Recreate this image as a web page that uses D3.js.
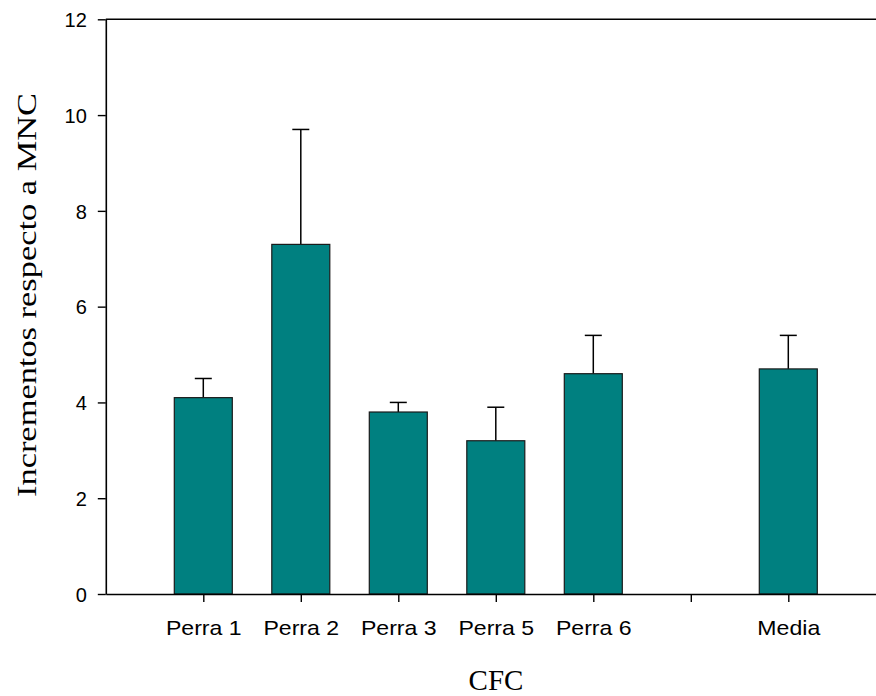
<!DOCTYPE html>
<html>
<head>
<meta charset="utf-8">
<script src="https://cdn.jsdelivr.net/npm/d3@7"></script>
<style>
  html, body { margin: 0; padding: 0; background: #fff; }
  svg { display: block; }
</style>
</head>
<body>
<svg id="chart" width="876" height="696"></svg>
<script>
// Increments relative to MNC per subject (CFC), with upper error bars
const categories = ["Perra 1", "Perra 2", "Perra 3", "Perra 5", "Perra 6", "", "Media"];
const means      = [4.1, 7.3, 3.8, 3.2, 4.6, null, 4.7];
const errors     = [0.4, 2.4, 0.2, 0.7, 0.8, null, 0.7];
const yTicks     = [0, 2, 4, 6, 8, 10, 12];

(function draw() {
  const svg = d3.select("#chart");
  const W = 876;

  const plotLeft = 105.8, plotTop = 19.3, plotBottom = 594;
  const step = 97.5;

  // slot 0 sits on the y axis, categories occupy slots 1..n
  const x = d3.scaleLinear()
    .domain([0, categories.length + 1])
    .range([plotLeft, plotLeft + step * (categories.length + 1)]);

  const y = d3.scaleLinear().domain([0, 12]).range([plotBottom, plotTop]);

  const barW = 58;
  const capW = 17;
  const fill = "#008080";

  const rows = categories.map((c, i) => ({ c, i, m: means[i], e: errors[i] }))
    .filter(d => d.m !== null);

  // frame line along the top
  svg.append("line")
    .attr("x1", plotLeft).attr("x2", W)
    .attr("y1", y(12)).attr("y2", y(12))
    .attr("stroke", "#000").attr("stroke-width", 1.6);

  // error bars (upper only)
  const eb = svg.append("g");
  eb.selectAll("line.stem").data(rows).join("line")
    .attr("class", "stem")
    .attr("x1", d => x(d.i + 1)).attr("x2", d => x(d.i + 1))
    .attr("y1", d => y(d.m)).attr("y2", d => y(d.m + d.e))
    .attr("stroke", "#000").attr("stroke-width", 1.5);
  eb.selectAll("line.cap").data(rows).join("line")
    .attr("class", "cap")
    .attr("x1", d => x(d.i + 1) - capW / 2).attr("x2", d => x(d.i + 1) + capW / 2)
    .attr("y1", d => y(d.m + d.e)).attr("y2", d => y(d.m + d.e))
    .attr("stroke", "#000").attr("stroke-width", 1.5);

  // bars
  svg.append("g").selectAll("rect").data(rows).join("rect")
    .attr("x", d => x(d.i + 1) - barW / 2)
    .attr("y", d => y(d.m))
    .attr("width", barW)
    .attr("height", d => y(0) - y(d.m))
    .attr("fill", fill)
    .attr("stroke", "#1a1a1a")
    .attr("stroke-width", 1.2);

  // y axis
  const yAxis = svg.append("g")
    .attr("transform", `translate(${plotLeft},0)`)
    .call(d3.axisLeft(y).tickValues(yTicks).tickFormat(d3.format("d"))
      .tickSize(8).tickSizeOuter(0).tickPadding(11));
  yAxis.select(".domain").attr("stroke", "#000").attr("stroke-width", 1.6);
  yAxis.selectAll(".tick line").attr("stroke", "#000").attr("stroke-width", 1.4);
  yAxis.selectAll(".tick text")
    .attr("font-family", "Arial, 'Liberation Sans', sans-serif")
    .attr("font-size", 20).attr("fill", "#000")
    .attr("dy", "0.36em");

  // x axis
  const xAxis = svg.append("g")
    .attr("transform", `translate(0,${plotBottom})`)
    .call(d3.axisBottom(x)
      .tickValues(d3.range(1, categories.length + 1))
      .tickFormat(i => categories[i - 1])
      .tickSize(8).tickSizeOuter(0));
  xAxis.select(".domain").attr("stroke", "#000").attr("stroke-width", 1.6);
  xAxis.selectAll(".tick line").attr("stroke", "#000").attr("stroke-width", 1.4);
  xAxis.selectAll(".tick text")
    .attr("font-family", "Arial, 'Liberation Sans', sans-serif")
    .attr("font-size", 20).attr("fill", "#000")
    .attr("y", 0).attr("dy", 0)
    .attr("transform", "translate(0,41) scale(1.155,1)");

  // axis titles
  svg.append("text")
    .attr("transform", "translate(36,295) rotate(-90)")
    .attr("text-anchor", "middle")
    .attr("font-family", "'Liberation Serif', 'Times New Roman', serif")
    .attr("font-size", 27)
    .attr("textLength", 404)
    .attr("lengthAdjust", "spacingAndGlyphs")
    .attr("fill", "#000")
    .text("Incrementos respecto a MNC");

  svg.append("text")
    .attr("x", 496).attr("y", 689.5)
    .attr("text-anchor", "middle")
    .attr("font-family", "'Liberation Serif', 'Times New Roman', serif")
    .attr("font-size", 29)
    .attr("fill", "#000")
    .text("CFC");
})();
</script>
</body>
</html>
